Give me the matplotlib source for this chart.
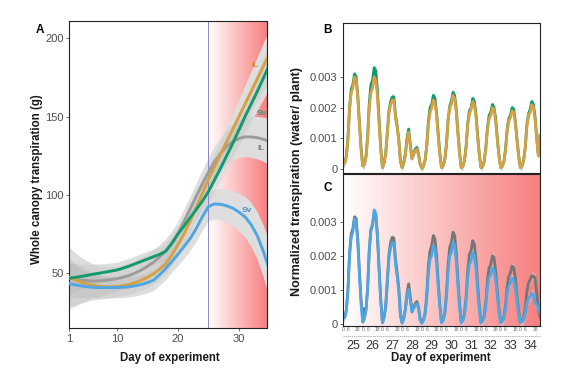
import numpy as np
import matplotlib
matplotlib.use("Agg")
import matplotlib.pyplot as plt
from matplotlib.colors import LinearSegmentedColormap

plt.rcParams['font.family'] = ['Liberation Sans', 'DejaVu Sans']

# ---- panel A: smoothed whole canopy transpiration (g), one value per day ----
days_a = list(range(2, 36))
sv_ctrl = [46.7, 47.2, 47.8, 48.5, 49.3, 49.9, 50.6, 51.3, 52.0, 53.2, 54.5, 56.0, 57.5, 59.0, 60.5, 62.0, 64.0,
           69.0, 75.0, 80.0, 85.5, 90.5, 96.0, 102.0, 109.5, 117.0, 125.0, 133.0, 141.5, 150.0, 158.0, 166.0, 174.5, 183.0]
il_ctrl = [47.8, 46.0, 44.5, 43.2, 42.3, 41.7, 41.3, 41.3, 41.5, 42.0, 42.8, 44.0, 45.5, 47.3, 49.5, 52.5, 56.0,
           61.5, 68.0, 75.0, 83.0, 92.0, 101.0, 110.0, 118.0, 126.0, 134.0, 142.0, 150.0, 158.0, 166.0, 174.0, 182.0, 190.0]
il_drought = [47.0, 46.2, 45.5, 45.2, 45.0, 45.1, 45.3, 45.8, 46.5, 47.4, 48.5, 50.1, 52.0, 54.3, 57.0, 60.3, 64.0,
              69.0, 75.0, 83.0, 91.0, 99.0, 107.0, 114.5, 121.0, 126.5, 131.0, 134.0, 136.0, 137.0, 137.0, 136.5, 135.5, 134.0]
sv_drought = [43.6, 42.7, 42.0, 41.4, 41.0, 40.8, 40.8, 40.8, 40.8, 41.0, 41.3, 41.9, 42.8, 44.0, 45.5, 49.0, 53.0,
              57.5, 62.0, 67.0, 72.0, 78.5, 86.0, 92.5, 94.2, 94.0, 93.0, 91.5, 89.0, 86.0, 81.0, 74.0, 64.0, 52.0]
# 95% CI half widths
sv_ctrl_ci = [10, 9, 8, 7.2, 6.5, 6, 5.5, 5.2, 5, 5, 5, 5, 5, 5, 5, 5, 5,
              5, 5, 5, 5, 5.5, 6, 6.5, 7, 7.5, 8, 8.5, 9, 10, 11, 12, 13.5, 15]
il_ctrl_ci = [13, 11.5, 10, 9, 8, 7.5, 7, 6.7, 6.5, 6.5, 6.5, 6.5, 6.5, 6.5, 6.5, 6.5, 6.5,
              6.5, 6.5, 6.5, 6.5, 7, 7.5, 8, 8.5, 9, 9.5, 10, 11, 12, 13, 14, 15, 16]
il_drought_ci = [20, 17.5, 15, 13, 11, 10, 9, 8.5, 8, 8, 8, 8, 8, 8, 8, 8, 8,
                 8, 8, 8, 8, 8.5, 9, 9.5, 10, 10.5, 11, 11.5, 12, 12.5, 13, 13.5, 14, 15]
sv_drought_ci = [15, 13, 11, 9.5, 8, 7.5, 7, 6.7, 6.5, 6.5, 6.5, 6.5, 6.5, 6.5, 6.5, 6.7, 7,
                 7, 7, 7.5, 7.5, 8, 8.5, 9, 9.5, 10, 10.5, 11, 12, 13, 14, 15, 16.5, 18]

# ---- panels B and C: normalized transpiration, every 2 h (x 0.001) ----
days_bc = list(range(25, 35))
hours = [0, 2, 4, 6, 8, 10, 12, 14, 16, 18, 20, 22]
sv_ctrl_b = [
    [0.17, 0.20, 0.40, 1.00, 2.00, 2.60, 2.75, 3.10, 3.00, 2.40, 1.50, 0.70],
    [0.10, 0.15, 0.40, 1.05, 2.15, 2.75, 2.90, 3.30, 3.20, 2.55, 1.60, 0.70],
    [0.05, 0.20, 0.50, 1.20, 1.90, 2.20, 2.35, 2.35, 1.75, 1.40, 0.95, 0.25],
    [0.05, 0.20, 0.50, 1.00, 1.30, 0.80, 0.35, 0.50, 0.65, 0.70, 0.50, 0.15],
    [0.03, 0.10, 0.30, 0.75, 1.55, 2.00, 2.10, 2.40, 2.30, 1.85, 1.15, 0.50],
    [0.05, 0.12, 0.30, 0.80, 1.60, 2.05, 2.20, 2.50, 2.40, 1.95, 1.20, 0.55],
    [0.05, 0.10, 0.28, 0.75, 1.50, 1.90, 2.00, 2.30, 2.20, 1.80, 1.10, 0.50],
    [0.05, 0.10, 0.25, 0.70, 1.35, 1.75, 1.85, 2.10, 2.00, 1.65, 1.00, 0.45],
    [0.05, 0.10, 0.25, 0.65, 1.30, 1.65, 1.75, 2.00, 1.95, 1.55, 0.95, 0.45],
    [0.05, 0.10, 0.28, 0.70, 1.45, 1.80, 1.95, 2.20, 2.10, 1.70, 1.00, 0.45],
]
sv_ctrl_b_end = 1.10
il_ctrl_b = [
    [0.15, 0.20, 0.38, 0.95, 1.95, 2.50, 2.65, 3.00, 2.90, 2.35, 1.45, 0.65],
    [0.10, 0.15, 0.38, 1.00, 2.00, 2.50, 2.65, 3.00, 2.90, 2.35, 1.45, 0.65],
    [0.05, 0.20, 0.48, 1.15, 1.85, 2.10, 2.25, 2.25, 1.65, 1.35, 0.90, 0.25],
    [0.05, 0.20, 0.45, 0.95, 1.20, 0.75, 0.35, 0.50, 0.60, 0.65, 0.45, 0.15],
    [0.03, 0.10, 0.28, 0.72, 1.45, 1.85, 2.00, 2.25, 2.15, 1.75, 1.05, 0.45],
    [0.05, 0.12, 0.30, 0.78, 1.55, 2.00, 2.10, 2.40, 2.30, 1.85, 1.15, 0.50],
    [0.05, 0.10, 0.27, 0.70, 1.45, 1.80, 1.95, 2.20, 2.10, 1.70, 1.05, 0.48],
    [0.05, 0.10, 0.24, 0.65, 1.30, 1.65, 1.75, 2.00, 1.95, 1.55, 0.95, 0.44],
    [0.05, 0.10, 0.23, 0.60, 1.25, 1.58, 1.68, 1.90, 1.85, 1.48, 0.90, 0.42],
    [0.05, 0.10, 0.26, 0.68, 1.38, 1.75, 1.85, 2.10, 2.00, 1.62, 0.98, 0.42],
]
il_ctrl_b_end = 1.10
il_drought_c = [
    [0.17, 0.20, 0.40, 1.00, 2.10, 2.65, 2.80, 3.15, 3.10, 2.50, 1.55, 0.70],
    [0.20, 0.45, 0.40, 1.05, 2.15, 2.75, 2.90, 3.25, 3.20, 2.55, 1.60, 0.70],
    [0.05, 0.20, 0.52, 1.30, 2.05, 2.40, 2.55, 2.52, 1.90, 1.50, 1.05, 0.28],
    [0.05, 0.20, 0.45, 0.90, 1.18, 0.80, 0.40, 0.50, 0.60, 0.66, 0.50, 0.15],
    [0.03, 0.12, 0.32, 0.85, 1.70, 2.15, 2.30, 2.60, 2.50, 2.00, 1.25, 0.55],
    [0.05, 0.13, 0.33, 0.87, 1.75, 2.25, 2.40, 2.70, 2.60, 2.10, 1.30, 0.60],
    [0.05, 0.12, 0.30, 0.80, 1.60, 2.05, 2.15, 2.45, 2.35, 1.90, 1.20, 0.55],
    [0.05, 0.10, 0.24, 0.65, 1.30, 1.65, 1.75, 2.00, 1.95, 1.55, 0.95, 0.45],
    [0.05, 0.10, 0.20, 0.55, 1.10, 1.40, 1.50, 1.70, 1.65, 1.35, 0.80, 0.38],
    [0.05, 0.10, 0.18, 0.45, 0.95, 1.20, 1.30, 1.42, 1.40, 1.35, 0.90, 0.45],
]
il_drought_c_end = 0.20
sv_drought_c = [
    [0.17, 0.18, 0.38, 0.98, 2.00, 2.55, 2.72, 3.10, 3.00, 2.40, 1.45, 0.60],
    [0.05, 0.15, 0.40, 1.05, 2.20, 2.80, 2.95, 3.35, 3.25, 2.60, 1.60, 0.70],
    [0.03, 0.18, 0.48, 1.20, 1.95, 2.25, 2.40, 2.38, 1.75, 1.40, 0.95, 0.22],
    [0.02, 0.15, 0.40, 0.80, 1.02, 0.70, 0.35, 0.45, 0.55, 0.60, 0.45, 0.10],
    [0.02, 0.10, 0.28, 0.75, 1.50, 1.90, 2.02, 2.30, 2.20, 1.78, 1.10, 0.50],
    [0.03, 0.10, 0.30, 0.78, 1.55, 2.00, 2.10, 2.40, 2.30, 1.85, 1.15, 0.50],
    [0.03, 0.10, 0.26, 0.68, 1.38, 1.75, 1.85, 2.10, 2.02, 1.62, 1.00, 0.45],
    [0.03, 0.08, 0.20, 0.53, 1.07, 1.37, 1.45, 1.65, 1.60, 1.28, 0.80, 0.36],
    [0.03, 0.07, 0.16, 0.43, 0.88, 1.12, 1.20, 1.35, 1.30, 1.05, 0.65, 0.30],
    [0.03, 0.06, 0.12, 0.30, 0.60, 0.75, 0.80, 0.90, 0.85, 0.62, 0.55, 0.45],
]
sv_drought_c_end = 0.35
ribbon_bc = 0.12  # CI half width (x 0.001)

C_GREEN = '#139a6c'
C_ORANGE = '#d6a043'
C_GREY = '#9c9c9c'
C_BLUE = '#4ea6e2'
C_RED = '#f77f7f'

def series(rows, end):
    return np.append(np.concatenate(rows), end) * 1e-3

t_bc = np.append(np.concatenate([d + np.array(hours) / 24 for d in days_bc]), 35.0)

W, H = 570, 370
def box(l, t, r, b):
    return [l / W, 1 - b / H, (r - l) / W, (b - t) / H]

fig = plt.figure(figsize=(5.7, 3.7), dpi=100)
axA = fig.add_axes(box(69, 21, 267, 328))
axB = fig.add_axes(box(343, 23, 540, 173))
axC = fig.add_axes(box(343, 174, 540, 326))

heat = LinearSegmentedColormap.from_list('heat', ['#ffffff', C_RED])
ramp = np.linspace(0, 1, 256)[None, :]

# ---- A ----
xa = (2.16, 34.6)
ya = (15, 211)
axA.imshow(ramp, cmap=heat, extent=[25, xa[1], ya[0], ya[1]], aspect='auto', zorder=0)
groups = [(il_drought, il_drought_ci, C_GREY), (il_ctrl, il_ctrl_ci, C_ORANGE),
          (sv_drought, sv_drought_ci, C_BLUE), (sv_ctrl, sv_ctrl_ci, C_GREEN)]
for vals, ci, col in groups:
    v, c = np.array(vals), np.array(ci)
    axA.fill_between(days_a, v - c, v + c, color='#ececec', lw=0, zorder=1)
for vals, ci, col in groups:
    v, c = np.array(vals), np.array(ci)
    axA.fill_between(days_a, v - c, v + c, color='#9a9a9a', alpha=0.16, lw=0, zorder=2)
axA.axvline(25, color='#8d86c4', lw=0.7, zorder=2.5)
for vals, ci, col in groups:
    axA.plot(days_a, vals, color=col, lw=2.1, zorder=3, solid_capstyle='butt')

lab = dict(fontsize=6, fontweight='bold', ha='center', va='center', zorder=4)
axA.text(32.6, 182.8, 'IL', color='#d08c35', **lab)
axA.text(33.7, 152, 'Sv', color='#3f9470', **lab)
axA.text(33.7, 129.8, 'IL', color='#8a8a8a', **lab)
axA.text(31.3, 90.2, 'Sv', color='#4a90c8', **lab)

axA.set_xlim(xa)
axA.set_ylim(ya)
axA.set_xticks([xa[0], 10, 20, 30])
axA.set_xticklabels(['1', '10', '20', '30'])
axA.set_yticks([50, 100, 150, 200])

# ---- B ----
for rows, end, col in [(sv_ctrl_b, sv_ctrl_b_end, C_GREEN), (il_ctrl_b, il_ctrl_b_end, C_ORANGE)]:
    v = series(rows, end)
    axB.fill_between(t_bc, v - ribbon_bc * 1e-3, v + ribbon_bc * 1e-3, color=col, alpha=0.22, lw=0)
    axB.plot(t_bc, v, color=col, lw=2.0)
axB.set_xlim(25, 35)
axB.set_ylim(-0.00013, 0.00476)
axB.set_xticks([])

# ---- C ----
axC.imshow(ramp, cmap=heat, extent=[25, 35, -0.00006, 0.00441], aspect='auto', zorder=0)
for rows, end, col in [(il_drought_c, il_drought_c_end, '#767676'), (sv_drought_c, sv_drought_c_end, C_BLUE)]:
    v = series(rows, end)
    axC.fill_between(t_bc, v - ribbon_bc * 1e-3, v + ribbon_bc * 1e-3, color='#c8d8e8', alpha=0.45, lw=0, zorder=1)
    axC.plot(t_bc, v, color=col, lw=2.0, zorder=2)
axC.set_xlim(25, 35)
axC.set_ylim(-0.00006, 0.00441)
axC.set_xticks([d + 0.5 for d in days_bc])
axC.set_xticklabels([str(d) for d in days_bc])
axC.set_xticks([d + h / 24 for d in days_bc for h in (0, 6, 12, 18)], minor=True)
axC.set_xticklabels(['0', '6', '12', '18'] * len(days_bc), minor=True)
axC.tick_params(axis='x', which='major', length=0, pad=10, labelsize=9, labelcolor='#333333')
axC.tick_params(axis='x', which='minor', length=0, pad=1, labelsize=3.5, labelcolor='#666666')
axC.plot([0, 1], [-0.066, -0.066], transform=axC.transAxes, clip_on=False,
         color='#999999', lw=0.5, ls=(0, (2, 1)))

for ax in (axB, axC):
    ax.set_yticks([0, 0.001, 0.002, 0.003])
    ax.set_yticklabels(['0', '0.001', '0.002', '0.003'])

for ax in (axA, axB, axC):
    for s in ax.spines.values():
        s.set_color('#222222')
        s.set_linewidth(0.8)
    ax.tick_params(axis='y', direction='out', length=2.5, width=0.5, color='#333333',
                   labelsize=8, labelcolor='#4d4d4d', pad=1.5)
axA.tick_params(axis='x', direction='out', length=2.5, width=0.5, color='#333333',
                labelsize=8, labelcolor='#4d4d4d', pad=2)

bold = dict(fontweight='bold', fontsize=8.3, color='#1a1a1a', ha='center', va='center')
fig.text(37 / W, 1 - 179 / H, 'Whole canopy transpiration (g)', rotation=90, **bold)
fig.text(297 / W, 1 - 182 / H, 'Normalized transpiration (water/ plant)', rotation=90,
         **{**bold, 'fontsize': 9})
fig.text(170 / W, 1 - 358 / H, 'Day of experiment', **bold)
fig.text(441 / W, 1 - 358 / H, 'Day of experiment', **bold)
fig.text(40 / W, 1 - 30 / H, 'A', fontweight='bold', fontsize=8.5, ha='center', va='center')
fig.text(327 / W, 1 - 30 / H, 'B', fontweight='bold', fontsize=8.5, ha='center', va='center')
fig.text(328 / W, 1 - 188 / H, 'C', fontweight='bold', fontsize=8.5, ha='center', va='center')

fig.savefig('out.png', dpi=100)
